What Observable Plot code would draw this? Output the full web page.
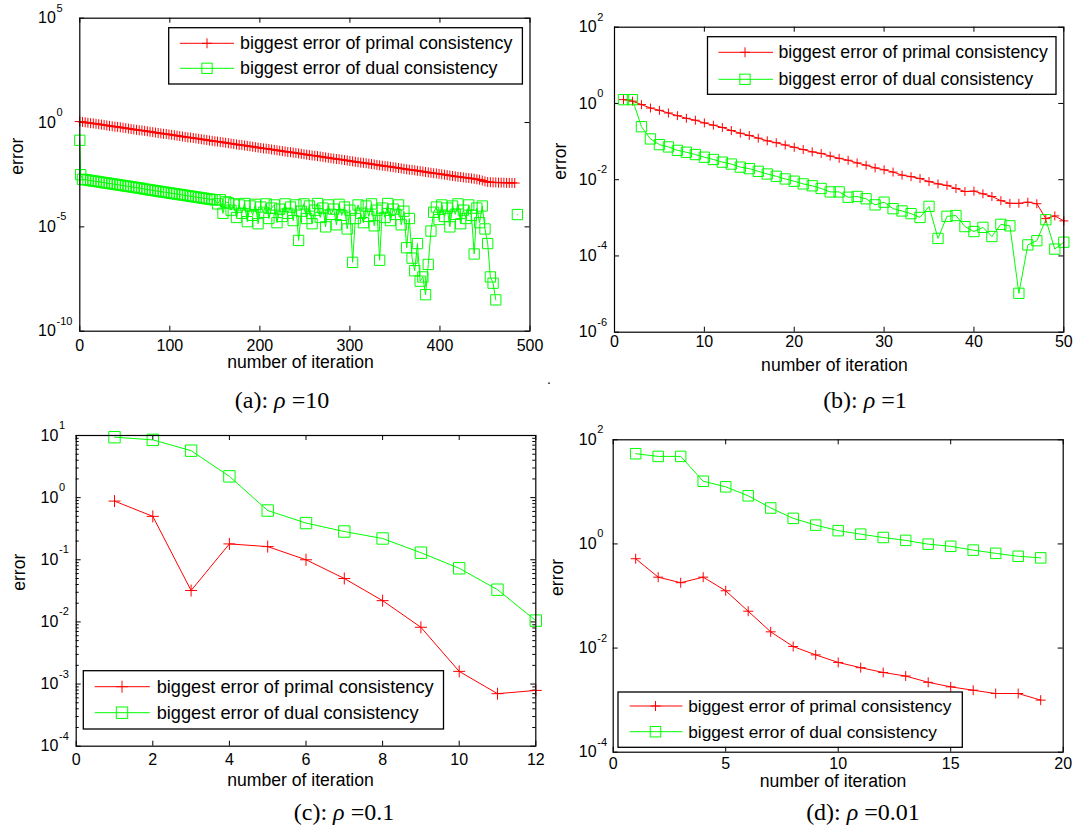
<!DOCTYPE html>
<html><head><meta charset="utf-8">
<script src="https://cdn.jsdelivr.net/npm/d3@7"></script>
<script src="https://cdn.jsdelivr.net/npm/@observablehq/plot@0.6"></script>
<style>
body{margin:0;background:#fff;}
#root{position:relative;width:1076px;height:833px;background:#fff;overflow:hidden;}
#root svg{position:absolute;}
</style></head><body><div id="root"></div>
<script>
// ---------------- data ----------------
const seriesNames = ["biggest error of primal consistency", "biggest error of dual consistency"];
const captions = [["(a): ", "ρ", " =10"], ["(b): ", "ρ", " =1"], ["(c): ", "ρ", " =0.1"], ["(d): ", "ρ", " =0.01"]];

// panel (a) rho = 10 : log10 of error, read every 3 iterations
const iterA_primal = d3.range(0, 486, 3);
const primalA_log10 = [
 0.05,0.03,0.01,-0.01,-0.03,-0.04,-0.06,-0.08,-0.10,-0.12,
 -0.14,-0.16,-0.18,-0.20,-0.21,-0.23,-0.25,-0.27,-0.29,-0.31,
 -0.33,-0.35,-0.37,-0.38,-0.40,-0.42,-0.44,-0.46,-0.48,-0.50,
 -0.52,-0.54,-0.55,-0.57,-0.59,-0.61,-0.63,-0.65,-0.67,-0.69,
 -0.71,-0.72,-0.74,-0.76,-0.78,-0.80,-0.82,-0.84,-0.86,-0.88,
 -0.90,-0.91,-0.93,-0.95,-0.97,-0.99,-1.01,-1.03,-1.05,-1.07,
 -1.08,-1.10,-1.12,-1.14,-1.16,-1.18,-1.20,-1.22,-1.24,-1.25,
 -1.27,-1.29,-1.31,-1.33,-1.35,-1.37,-1.39,-1.41,-1.42,-1.44,
 -1.46,-1.48,-1.50,-1.52,-1.54,-1.56,-1.58,-1.59,-1.61,-1.63,
 -1.65,-1.67,-1.69,-1.71,-1.73,-1.75,-1.76,-1.78,-1.80,-1.82,
 -1.84,-1.86,-1.88,-1.90,-1.92,-1.93,-1.95,-1.97,-1.99,-2.01,
 -2.03,-2.05,-2.07,-2.09,-2.10,-2.12,-2.14,-2.16,-2.18,-2.20,
 -2.22,-2.24,-2.26,-2.27,-2.29,-2.31,-2.33,-2.35,-2.37,-2.39,
 -2.41,-2.43,-2.44,-2.46,-2.48,-2.50,-2.52,-2.54,-2.56,-2.58,
 -2.60,-2.61,-2.63,-2.65,-2.66,-2.68,-2.70,-2.72,-2.74,-2.78,
 -2.82,-2.85,-2.86,-2.87,-2.87,-2.88,-2.88,-2.88,-2.89,-2.89,
 -2.89,-2.90];
const iterA_dual = [0, 1, ...d3.range(3, 463, 3), 470, 486];
const dualA_log10 = [
 -0.85,-2.50,
 -2.72,-2.74,-2.76,-2.78,-2.80,-2.82,-2.84,-2.86,-2.88,-2.90,
 -2.92,-2.94,-2.96,-2.98,-3.00,-3.02,-3.04,-3.06,-3.08,-3.10,
 -3.12,-3.14,-3.16,-3.19,-3.21,-3.23,-3.25,-3.27,-3.29,-3.31,
 -3.33,-3.35,-3.37,-3.39,-3.41,-3.43,-3.45,-3.47,-3.49,-3.51,
 -3.53,-3.55,-3.57,-3.59,-3.61,-3.63,-3.65,-3.67,-3.69,-3.71,
 -3.90,-3.70,-4.35,-3.80,
 -3.85,-4.20,-3.90,-4.55,-3.95,-4.35,-3.88,-4.75,-4.00,-4.45,
 -3.92,-4.85,-4.05,-4.30,-3.90,-4.60,-4.10,-3.95,-4.80,-4.15,
 -4.50,-3.90,-4.35,-4.05,-4.70,-3.95,-5.65,-4.25,-3.90,-4.60,
 -4.00,-4.85,-4.20,-3.88,-4.55,-4.10,-5.00,-3.95,-4.40,-4.15,
 -4.90,-3.92,-4.45,-4.05,-5.10,-4.20,-6.70,-4.60,-3.95,-4.35,
 -4.80,-4.00,-4.50,-3.90,-4.95,-4.20,-6.60,-4.10,-4.55,-3.88,
 -4.70,-4.15,-4.40,-3.95,-4.90,-4.25,-6.00,-4.60,-6.50,-7.10,
 -5.80,-7.60,-7.40,-8.25,-6.80,-5.20,-4.30,-4.05,-4.65,-3.95,
 -4.50,-4.10,-5.00,-4.00,-4.40,-3.90,-4.85,-4.20,-4.60,-3.95,
 -4.45,-6.30,-4.10,-4.80,-4.00,-5.10,-5.80,-7.40,-7.70,-8.50,
 null,-4.41];

// panel (b) rho = 1 : log10 of error
const iterB = d3.range(1, 51);
const primalB_log10 = [0.10,0.06,-0.03,-0.12,-0.18,-0.25,-0.32,-0.39,-0.44,-0.51,
 -0.57,-0.63,-0.71,-0.78,-0.84,-0.91,-0.98,-1.03,-1.09,-1.15,
 -1.21,-1.27,-1.31,-1.38,-1.44,-1.49,-1.56,-1.62,-1.69,-1.74,
 -1.80,-1.88,-1.92,-1.97,-2.05,-2.11,-2.15,-2.23,-2.31,-2.30,
 -2.37,-2.44,-2.55,-2.62,-2.62,-2.59,-2.63,-3.02,-2.95,-3.08];
const dualB_log10 = [0.10,0.10,-0.61,-0.93,-1.08,-1.14,-1.23,-1.28,-1.34,-1.41,
 -1.47,-1.54,-1.59,-1.67,-1.71,-1.78,-1.85,-1.91,-1.98,-2.04,
 -2.11,-2.16,-2.23,-2.32,-2.32,-2.46,-2.44,-2.50,-2.66,-2.59,
 -2.76,-2.82,-2.89,-2.99,-2.70,-3.54,-2.96,-2.94,-3.23,-3.36,
 -3.25,-3.49,-3.17,-3.21,-4.98,-3.71,-3.60,-3.05,-3.82,-3.64];

// panel (c) rho = 0.1
const iterC = d3.range(1, 13);
const primalC = [0.88,0.50,0.032,0.18,0.163,0.10,0.050,0.022,0.0082,0.0016,0.0007,0.00079];
const dualC = [9.4,8.5,5.7,2.2,0.62,0.39,0.285,0.22,0.13,0.073,0.033,0.0105];

// panel (d) rho = 0.01
const iterD = d3.range(1, 20);
const primalD = [0.52,0.23,0.18,0.23,0.126,0.051,0.0205,0.0107,0.0074,0.0053,0.0042,0.0034,0.0029,0.0022,0.0018,0.00155,0.00134,0.00134,0.0010];
const dualD = [54,48,48,16,12.5,8.4,4.9,3.1,2.3,1.8,1.54,1.33,1.17,0.99,0.90,0.76,0.66,0.58,0.54];

// axis ticks
const xTicksA = [0,100,200,300,400,500], yTicksA = [1e5,1,1e-5,1e-10];
const xTicksB = [0,10,20,30,40,50], yTicksB = [1e2,1,1e-2,1e-4,1e-6];
const xTicksC = [0,2,4,6,8,10,12], yTicksC = [1e1,1,1e-1,1e-2,1e-3,1e-4];
const xTicksD = [0,5,10,15,20], yTicksD = [1e2,1,1e-2,1e-4];
const minorTicksC = [];
for (let k = -4; k <= 0; k++) for (let m = 2; m <= 9; m++) minorTicksC.push(m * Math.pow(10, k));

// ---------------- drawing ----------------
const RED = "#ff0000", GREEN = "#00ff00";
const FONT = "'Liberation Sans', Arial, Helvetica, sans-serif";
const plusSym = a => ({draw(c){c.moveTo(-a,0);c.lineTo(a,0);c.moveTo(0,-a);c.lineTo(0,a);}});
const squareSym = s => ({draw(c){c.rect(-s/2,-s/2,s,s);}});

function rows(iters, vals, isLog) {
  return iters.map((it, i) => ({it, v: vals[i] == null ? null : (isLog ? Math.pow(10, vals[i]) : vals[i])}));
}

const root = document.getElementById("root");

function panel(cfg) {
  const [mL, mR, mT, mB] = cfg.m;
  const fw = cfg.w - mL - mR, fh = cfg.h - mT - mB;
  const T = 5, t = 3;
  const marks = [
    // inward ticks on all four sides
    Plot.ruleX(cfg.xTicks, {x: d => d, insetTop: fh - T, stroke: "black", strokeWidth: 1}),
    Plot.ruleX(cfg.xTicks, {x: d => d, insetBottom: fh - T, stroke: "black", strokeWidth: 1}),
    Plot.ruleY(cfg.yTicks, {y: d => d, insetRight: fw - T, stroke: "black", strokeWidth: 1}),
    Plot.ruleY(cfg.yTicks, {y: d => d, insetLeft: fw - T, stroke: "black", strokeWidth: 1})
  ];
  if (cfg.minor) {
    marks.push(Plot.ruleY(cfg.minor, {y: d => d, insetRight: fw - t, stroke: "black", strokeWidth: 1}));
    marks.push(Plot.ruleY(cfg.minor, {y: d => d, insetLeft: fw - t, stroke: "black", strokeWidth: 1}));
  }
  marks.push(
    Plot.axisX({anchor: "bottom", ticks: cfg.xTicks, tickSize: 0, tickPadding: cfg.xPad, fontSize: 16, label: null, fill: "black"}),
    Plot.text(cfg.yTicks, {y: d => d, text: () => "10", frameAnchor: "left", textAnchor: "start", dx: -cfg.yLabOff, fontSize: 16, fill: "black"}),
    Plot.text(cfg.yTicks, {y: d => d, text: d => String(Math.round(Math.log10(d))), frameAnchor: "left", textAnchor: "start", dx: -cfg.yLabOff + 18.5, dy: -10, fontSize: 11, fill: "black"}),
    Plot.text(["number of iteration"], {frameAnchor: "bottom", text: d => d, dy: cfg.xLabDy, dx: cfg.xLabDx, fontSize: 17.6, fill: "black"}),
    Plot.text(["error"], {frameAnchor: "left", text: d => d, rotate: -90, dx: -cfg.yLabDx, fontSize: 17.6, fill: "black"}),
    Plot.line(cfg.primal, {x: "it", y: "v", stroke: RED, strokeWidth: 1}),
    Plot.line(cfg.dual, {x: "it", y: "v", stroke: GREEN, strokeWidth: 1}),
    Plot.dot(cfg.primal, {x: "it", y: "v", symbol: plusSym(cfg.plus), stroke: RED, fill: "none", strokeWidth: 1}),
    Plot.dot(cfg.dual, {x: "it", y: "v", symbol: squareSym(cfg.sq), stroke: GREEN, fill: "none", strokeWidth: 1}),
    Plot.frame({stroke: "black", strokeWidth: 1.2})
  );
  const svg = Plot.plot({
    width: cfg.w, height: cfg.h,
    marginLeft: mL, marginRight: mR, marginTop: mT, marginBottom: mB,
    x: {domain: cfg.xDomain, label: null},
    y: {type: "log", domain: cfg.yDomain, label: null, axis: null},
    style: {fontFamily: FONT, fontSize: "16px", background: "transparent", overflow: "visible", color: "black"},
    marks
  });
  svg.style.left = cfg.left + "px";
  svg.style.top = cfg.top + "px";
  root.appendChild(svg);
}

panel({left: 0, top: 0, w: 538, h: 395, m: [79.3, 8.5, 17.7, 64.3],
  xDomain: [0, 500], yDomain: [1e-10, 1e5], xTicks: xTicksA, yTicks: yTicksA,
  xPad: 8.6, yLabOff: 41.8, xLabDy: 37, xLabDx: -4.4, yLabDx: 62, plus: 5, sq: 10.3,
  primal: rows(iterA_primal, primalA_log10, true), dual: rows(iterA_dual, dualA_log10, true)});
panel({left: 538, top: 0, w: 538, h: 395, m: [76, 12.7, 26.7, 63.3],
  xDomain: [0, 50], yDomain: [1e-6, 1e2], xTicks: xTicksB, yTicks: yTicksB,
  xPad: 3.5, yLabOff: 35.7, xLabDy: 38.3, xLabDx: -4.7, yLabDx: 54.6, plus: 4.5, sq: 10.3,
  primal: rows(iterB, primalB_log10, true), dual: rows(iterB, dualB_log10, true)});
panel({left: 0, top: 395, w: 538, h: 438, m: [75.7, 2.7, 40, 87.3],
  xDomain: [0, 12], yDomain: [1e-4, 1e1], xTicks: xTicksC, yTicks: yTicksC, minor: minorTicksC,
  xPad: 7.7, yLabOff: 35.7, xLabDy: 39.3, xLabDx: -5.5, yLabDx: 56.7, plus: 6, sq: 11.4,
  primal: rows(iterC, primalC, false), dual: rows(iterC, dualC, false)});
panel({left: 538, top: 395, w: 538, h: 438, m: [74.7, 13.3, 44.3, 81.3],
  xDomain: [0, 20], yDomain: [1e-4, 1e2], xTicks: xTicksD, yTicks: yTicksD,
  xPad: 5, yLabOff: 34.4, xLabDy: 35, xLabDx: -5.2, yLabDx: 55.4, plus: 5, sq: 10.5,
  primal: rows(iterD, primalD, false), dual: rows(iterD, dualD, false)});

// ---------------- legends & captions (overlay) ----------------
const ov = d3.select(root).append("svg").attr("width", 1076).attr("height", 833)
  .style("left", "0px").style("top", "0px").style("pointer-events", "none");

const legends = [
  {x0: 168.7, x1: 522.4, y0: 27.7, y1: 84, l0: 179.8, l1: 234, mx: 207, tx: 240, r: [43.3, 68.3], fs: 17.9, plus: 5, sq: 10.3},
  {x0: 707.5, x1: 1056, y0: 36.7, y1: 94.3, l0: 718.5, l1: 773, mx: 745, tx: 778.4, r: [52.3, 79.3], fs: 17.7, plus: 5, sq: 10.3},
  {x0: 83.3, x1: 443.5, y0: 670.7, y1: 729, l0: 94.7, l1: 149.8, mx: 122, tx: 156.7, r: [686.7, 712.7], fs: 18.2, plus: 6, sq: 11.4},
  {x0: 618, x1: 962.3, y0: 692, y1: 747.3, l0: 629.7, l1: 682.4, mx: 655.5, tx: 688.2, r: [706, 731.7], fs: 17.3, plus: 5, sq: 10.5}
];
legends.forEach(L => {
  const g = ov.append("g");
  g.append("rect").attr("x", L.x0).attr("y", L.y0).attr("width", L.x1 - L.x0).attr("height", L.y1 - L.y0)
    .attr("fill", "white").attr("stroke", "black").attr("stroke-width", 1.3);
  [RED, GREEN].forEach((col, i) => {
    const y = L.r[i];
    g.append("line").attr("x1", L.l0).attr("x2", L.l1).attr("y1", y).attr("y2", y).attr("stroke", col).attr("stroke-width", 1);
    if (i === 0) {
      g.append("path").attr("d", `M${L.mx - L.plus},${y}H${L.mx + L.plus}M${L.mx},${y - L.plus}V${y + L.plus}`).attr("stroke", col).attr("fill", "none");
    } else {
      g.append("rect").attr("x", L.mx - L.sq / 2).attr("y", y - L.sq / 2).attr("width", L.sq).attr("height", L.sq).attr("stroke", col).attr("fill", "none");
    }
    g.append("text").attr("x", L.tx).attr("y", y).attr("dominant-baseline", "central")
      .attr("font-family", FONT).attr("font-size", L.fs).attr("fill", "black").text(seriesNames[i]);
  });
});

const capPos = [[282, 408], [865, 408], [344, 820], [863, 820]];
captions.forEach((c, i) => {
  const t = ov.append("text").attr("x", capPos[i][0]).attr("y", capPos[i][1]).attr("text-anchor", "middle")
    .attr("font-family", "'Liberation Serif', 'Times New Roman', serif").attr("font-size", 24).attr("fill", "black");
  t.append("tspan").text(c[0]);
  t.append("tspan").attr("font-style", "italic").text(c[1]);
  t.append("tspan").text(c[2]);
});
ov.append("text").attr("x", 547).attr("y", 384).attr("font-family", FONT).attr("font-size", 14).text(".");
</script></body></html>
